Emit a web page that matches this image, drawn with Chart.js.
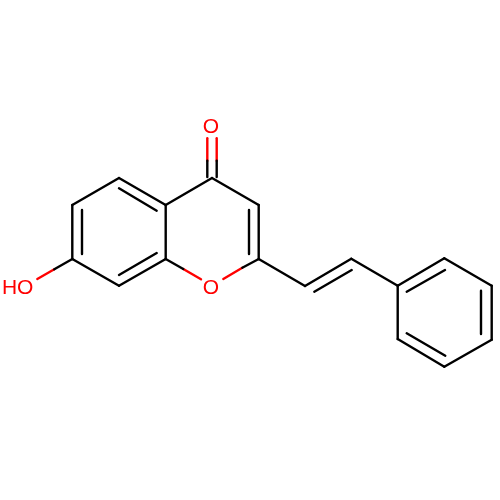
<!DOCTYPE html>
<html>
<head>
<meta charset="utf-8">
<title>7-hydroxy-2-styrylchromen-4-one</title>
<script src="https://cdn.jsdelivr.net/npm/chart.js@4"></script>
<style>
html, body { margin: 0; padding: 0; background: #fff; }
canvas { display: block; }
</style>
</head>
<body>
<canvas id="mol" width="500" height="500"></canvas>
<script>
// bonds, each one [x1, y1, x2, y2]
const blackBonds = [
    [119, 178, 72.3, 205], [72.3, 205, 72.3, 259], [72.3, 259, 119, 285.7],
    [119, 285.7, 165.7, 259], [165.7, 259, 165.7, 205], [165.7, 205, 119, 178],
    [165.7, 205, 212, 178], [212, 178, 258.7, 205], [258.7, 205, 258.7, 259],
    [258.7, 259, 305, 286], [305, 286, 351.3, 258.7], [351.3, 258.7, 397.7, 285.7],
    [397.7, 285.7, 397.7, 339], [397.7, 339, 444.3, 366.7], [444.3, 366.7, 491.7, 339.7],
    [491.7, 339.7, 491.7, 285.7], [491.7, 285.7, 444.3, 258.3], [444.3, 258.3, 397.7, 285.7],
    // inner lines of the double bonds
    [119, 188.3, 156.7, 210.7], [82, 210, 82, 254], [119, 275, 156.7, 253],
    [249, 210, 249, 254], [314.3, 291.7, 351.7, 270], [406.7, 291.7, 445, 270],
    [481, 290.7, 481, 334], [406.7, 333.3, 445.3, 355.7],
    // black half of the bonds to oxygen
    [207.3, 177, 207.3, 160.7], [216.7, 177, 216.7, 160.7],
    [72.3, 259, 54.3, 269.3], [165.7, 259, 183.3, 269], [258.7, 259, 242.3, 267.7]
];
const redBonds = [
    [207.3, 160.7, 207.3, 138.3], [216.7, 160.7, 216.7, 138.3],
    [54.3, 269.3, 37.3, 279], [183.3, 269, 201, 279.3], [242.3, 267.7, 223.3, 279]
];
const atomLabels = ['O', 'O', 'HO'];
const atomX = [211, 211, 17.7];
// y of the text baseline
const atomY = [132.7, 294, 294];

function toDataset(bond, colour) {
    return {
        data: [{ x: bond[0], y: bond[1] }, { x: bond[2], y: bond[3] }],
        showLine: true,
        borderColor: colour,
        borderWidth: 2.4,
        borderCapStyle: 'round',
        pointRadius: 0,
        pointHoverRadius: 0,
        parsing: false
    };
}

// 原子标签
const atomLabelPlugin = {
    id: 'atomLabels',
    afterDatasetsDraw(chart) {
        const ctx = chart.ctx;
        ctx.save();
        ctx.fillStyle = '#ff0000';
        ctx.font = '21px "Liberation Sans"';
        ctx.textAlign = 'center';
        ctx.textBaseline = 'alphabetic';
        atomLabels.forEach((label, i) => {
            ctx.fillText(label, chart.scales.x.getPixelForValue(atomX[i]), chart.scales.y.getPixelForValue(atomY[i]));
        });
        ctx.restore();
    }
};

new Chart(document.getElementById('mol').getContext('2d'), {
    type: 'scatter',
    data: {
        datasets: [
            ...blackBonds.map(b => toDataset(b, '#000000')),
            ...redBonds.map(b => toDataset(b, '#ff0000'))
        ]
    },
    options: {
        responsive: false,
        animation: false,
        devicePixelRatio: 1,
        layout: { padding: 0 },
        scales: {
            x: { type: 'linear', display: false, min: 0, max: 500 },
            y: { type: 'linear', display: false, min: 0, max: 500, reverse: true }
        },
        plugins: {
            legend: { display: false },
            tooltip: { enabled: false }
        }
    },
    plugins: [atomLabelPlugin]
});
</script>
</body>
</html>
